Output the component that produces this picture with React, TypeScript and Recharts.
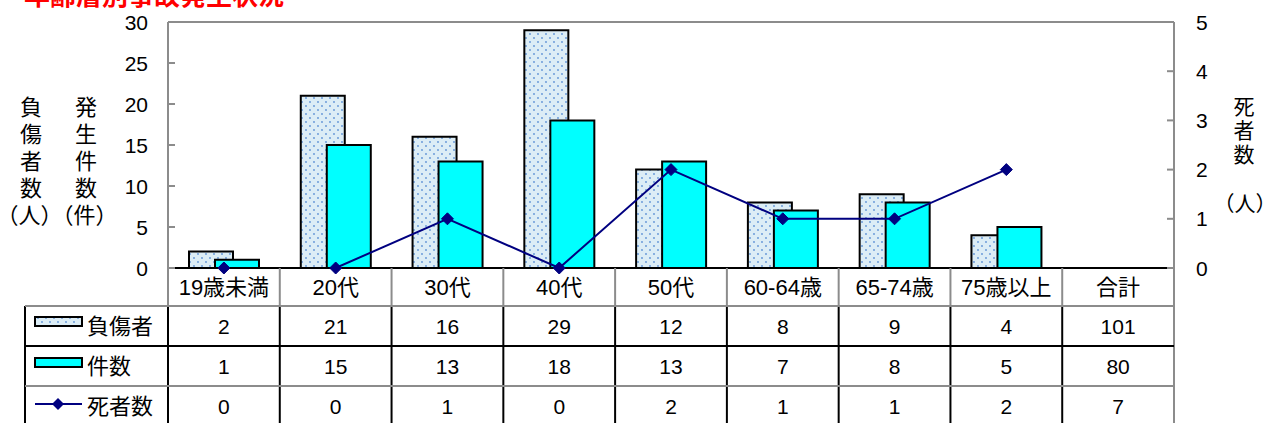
import React from 'react';
import { ComposedChart, Bar, Line, XAxis, YAxis } from 'recharts';

// 年齢層別の負傷者数・発生件数・死者数
const categories = ['19歳未満', '20代', '30代', '40代', '50代', '60-64歳', '65-74歳', '75歳以上', '合計'];
const injured = [2, 21, 16, 29, 12, 8, 9, 4, 101];
const cases = [1, 15, 13, 18, 13, 7, 8, 5, 80];
const deaths = [0, 0, 1, 0, 2, 1, 1, 2, 7];
const leftTicks = [0, 5, 10, 15, 20, 25, 30];
const rightTicks = [0, 1, 2, 3, 4, 5];
const TOTAL = '合計';

const data = categories.map((name, i) => ({
    name,
    injured: name === TOTAL ? null : injured[i],
    cases: name === TOTAL ? null : cases[i],
    deaths: name === TOTAL ? null : deaths[i],
}));

const W = 1268;
const H = 423;
const PLOT_L = 168;
const PLOT_R = 1174;
const PLOT_T = 22;
const PLOT_B = 268;
const COL_W = (PLOT_R - PLOT_L) / categories.length;
const ROW_LINES = [306, 346, 386];
const ROW_Y = [326, 366, 406];
const GRAY = '#8c8c8c';
const FONT = '"Liberation Sans", "Noto Sans CJK JP", sans-serif';

const LeftTick = ({ y, payload }: any) => (
    <g>
        <line x1={PLOT_L} x2={PLOT_L + 7} y1={y} y2={y} stroke={GRAY} strokeWidth={2} />
        <text x={148} y={y} textAnchor="end" dominantBaseline="central" fontSize={21} fill="#000" fontFamily={FONT}>
            {payload.value}
        </text>
    </g>
);

const RightTick = ({ y, payload }: any) => (
    <g>
        <line x1={PLOT_R - 7} x2={PLOT_R} y1={y} y2={y} stroke={GRAY} strokeWidth={2} />
        <text x={1196} y={y} textAnchor="start" dominantBaseline="central" fontSize={21} fill="#000" fontFamily={FONT}>
            {payload.value}
        </text>
    </g>
);

// 表の1列（カテゴリ名と各系列の値）
const TableColumn = ({ x, payload }: any) => {
    const i = categories.indexOf(payload.value);
    const values = [injured[i], cases[i], deaths[i]];
    const right = x + COL_W / 2;
    const last = i === categories.length - 1;
    return (
        <g fontFamily={FONT} fill="#000">
            <line x1={right} x2={right} y1={PLOT_B} y2={ROW_LINES[0]} stroke={GRAY} strokeWidth={2} />
            <line x1={right} x2={right} y1={ROW_LINES[0]} y2={H} stroke={last ? GRAY : '#000'} strokeWidth={2} />
            <text x={x} y={287} textAnchor="middle" dominantBaseline="central" fontSize={22}>
                {payload.value}
            </text>
            {values.map((v, k) => (
                <text key={k} x={x} y={ROW_Y[k]} textAnchor="middle" dominantBaseline="central" fontSize={21}>
                    {v}
                </text>
            ))}
        </g>
    );
};

const Diamond = ({ cx, cy, index }: any) => {
    if (cx == null || cy == null) return <g key={index} />;
    return (
        <path
            key={index}
            d={`M${cx},${cy - 6} L${cx + 6},${cy} L${cx},${cy + 6} L${cx - 6},${cy} Z`}
            fill="#000080"
            stroke="#000080"
        />
    );
};

const vertical = (chars: string[], x: number, y0: number, step: number, size = 22) =>
    chars.map((c, i) => (
        <text key={c + i} x={x} y={y0 + i * step} textAnchor="middle" dominantBaseline="central" fontSize={size}>
            {c}
        </text>
    ));

export default function App() {
    return (
        <div style={{ position: 'absolute', left: 0, top: 0, width: W, height: H, background: '#fff', overflow: 'hidden' }}>
            <ComposedChart
                width={W}
                height={H}
                data={data}
                margin={{ top: PLOT_T, right: W - PLOT_R - 60, bottom: H - PLOT_B - 30, left: PLOT_L - 60 }}
                barGap={-18}
            >
                <defs>
                    <pattern id="dots" width="8" height="8" patternUnits="userSpaceOnUse">
                        <rect width="8" height="8" fill="#dcedf6" />
                        <circle cx="2" cy="2" r="0.9" fill="#5f92d6" />
                        <circle cx="6" cy="6" r="0.9" fill="#5f92d6" />
                    </pattern>
                </defs>
                <XAxis
                    dataKey="name"
                    height={30}
                    interval={0}
                    tickLine={false}
                    axisLine={{ stroke: '#000', strokeWidth: 2 }}
                    tick={<TableColumn />}
                />
                <YAxis
                    yAxisId="left"
                    width={60}
                    domain={[0, 30]}
                    ticks={leftTicks}
                    tickLine={false}
                    axisLine={{ stroke: GRAY, strokeWidth: 2 }}
                    tick={<LeftTick />}
                />
                <YAxis
                    yAxisId="right"
                    orientation="right"
                    width={60}
                    domain={[0, 5]}
                    ticks={rightTicks}
                    tickLine={false}
                    axisLine={{ stroke: GRAY, strokeWidth: 2 }}
                    tick={<RightTick />}
                />
                <Bar yAxisId="left" dataKey="injured" barSize={44} fill="url(#dots)" stroke="#000" strokeWidth={2} isAnimationActive={false} />
                <Bar yAxisId="left" dataKey="cases" barSize={44} fill="#00ffff" stroke="#000" strokeWidth={2} isAnimationActive={false} />
                <Line
                    yAxisId="right"
                    dataKey="deaths"
                    type="linear"
                    stroke="#000080"
                    strokeWidth={2}
                    dot={<Diamond />}
                    activeDot={false}
                    isAnimationActive={false}
                />
            </ComposedChart>
            <svg
                width={W}
                height={H}
                style={{ position: 'absolute', left: 0, top: 0, pointerEvents: 'none' }}
                fontFamily={FONT}
            >
                <text x={24} y={5} fontSize={26} fontWeight="bold" fill="#ff0000">
                    年齢層別事故発生状況
                </text>
                {/* plot frame top */}
                <line x1={PLOT_L} x2={PLOT_R} y1={PLOT_T} y2={PLOT_T} stroke={GRAY} strokeWidth={2} />
                {/* table frame */}
                <line x1={PLOT_L} x2={PLOT_L} y1={PLOT_B} y2={ROW_LINES[0]} stroke={GRAY} strokeWidth={2} />
                <line x1={PLOT_L} x2={PLOT_L} y1={ROW_LINES[0]} y2={H} stroke="#000" strokeWidth={2} />
                <line x1={PLOT_R} x2={PLOT_R} y1={PLOT_B} y2={H} stroke={GRAY} strokeWidth={2} />
                <line x1={25} x2={25} y1={ROW_LINES[0]} y2={H} stroke="#000" strokeWidth={2} />
                <line x1={25} x2={PLOT_R} y1={ROW_LINES[0]} y2={ROW_LINES[0]} stroke={GRAY} strokeWidth={2} />
                <line x1={25} x2={PLOT_R} y1={ROW_LINES[1]} y2={ROW_LINES[1]} stroke="#000" strokeWidth={2} />
                <line x1={25} x2={PLOT_R} y1={ROW_LINES[2]} y2={ROW_LINES[2]} stroke={GRAY} strokeWidth={2} />
                {/* legend column */}
                <rect x={35} y={317} width={47} height={9} fill="url(#dots2)" stroke="#000" strokeWidth={2} />
                <defs>
                    <pattern id="dots2" width="8" height="8" patternUnits="userSpaceOnUse">
                        <rect width="8" height="8" fill="#dcedf6" />
                        <circle cx="2" cy="2" r="0.9" fill="#5f92d6" />
                        <circle cx="6" cy="6" r="0.9" fill="#5f92d6" />
                    </pattern>
                </defs>
                <text x={87} y={ROW_Y[0]} dominantBaseline="central" fontSize={22}>負傷者</text>
                <rect x={35} y={358} width={47} height={9} fill="#00ffff" stroke="#000" strokeWidth={2} />
                <text x={87} y={ROW_Y[1]} dominantBaseline="central" fontSize={22}>件数</text>
                <line x1={35} x2={82} y1={404} y2={404} stroke="#000080" strokeWidth={2} />
                <path d="M58,398 L64,404 L58,410 L52,404 Z" fill="#000080" />
                <text x={87} y={ROW_Y[2]} dominantBaseline="central" fontSize={22}>死者数</text>
                {/* axis titles */}
                {vertical(['負', '傷', '者', '数'], 31, 107, 27)}
                {vertical(['発', '生', '件', '数'], 86, 107, 27)}
                <text x={57} y={215} textAnchor="middle" dominantBaseline="central" fontSize={22}>（人）（件）</text>
                {vertical(['死', '者', '数'], 1244, 106, 24, 21)}
                <text x={1245} y={203} textAnchor="middle" dominantBaseline="central" fontSize={21}>（人）</text>
            </svg>
        </div>
    );
}
